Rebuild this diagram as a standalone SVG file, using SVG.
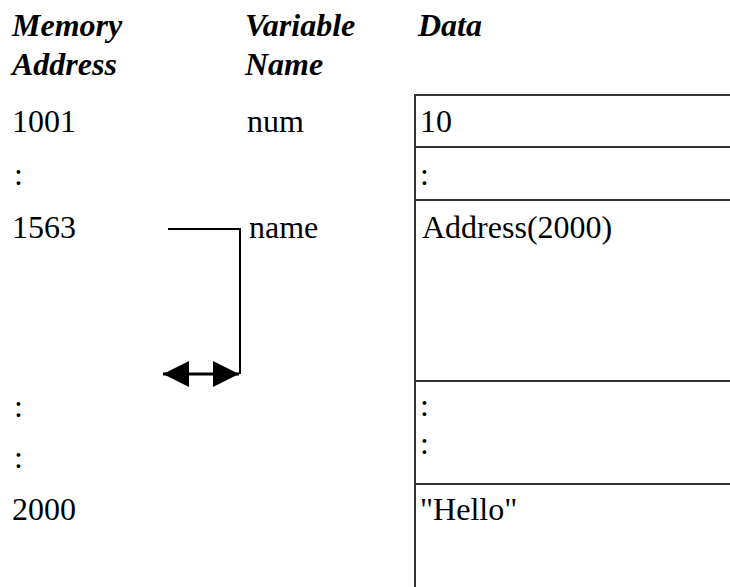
<svg xmlns="http://www.w3.org/2000/svg" width="730" height="587" viewBox="0 0 730 587">
<style>
text{font-family:"Liberation Serif","Times New Roman",serif;font-size:32px;fill:#000}
.h{font-weight:bold;font-style:italic}
.grid{stroke:#333;stroke-width:2;fill:none}
.conn{stroke:#000;stroke-width:2;fill:none}
</style>
<defs>
<marker id="ah" viewBox="0 0 10 10" refX="10" refY="5" markerWidth="26" markerHeight="26" markerUnits="userSpaceOnUse" orient="auto-start-reverse">
<path d="M0,0 L10,5 L0,10 Z" fill="#000"/>
</marker>
</defs>
<g id="headers">
<text class="h" x="12" y="36">Memory</text>
<text class="h" x="12" y="75">Address</text>
<text class="h" x="245" y="36">Variable</text>
<text class="h" x="245" y="75">Name</text>
<text class="h" x="418" y="36">Data</text>
</g>
<g id="table">
<path class="grid" d="M415,587 V95 H730 M415,147 H730 M415,200 H730 M415,381 H730 M415,484 H730"/>
</g>
<g id="row-1001">
<text x="12" y="132">1001</text>
<text x="247" y="132">num</text>
<text x="420" y="132">10</text>
</g>
<g id="row-gap1">
<text x="14" y="185">:</text>
<text x="420" y="185">:</text>
</g>
<g id="row-1563">
<text x="12" y="238">1563</text>
<text x="249" y="238">name</text>
<text x="422" y="238">Address(2000)</text>
</g>
<g id="row-gap2">
<text x="14" y="417">:</text>
<text x="14" y="468">:</text>
<text x="420" y="416">:</text>
<text x="420" y="454">:</text>
</g>
<g id="row-2000">
<text x="12" y="520">2000</text>
<text x="420" y="520">"Hello"</text>
</g>
<g id="connectors">
<path class="conn" d="M168,229 H240 V374"/>
<line x1="163" y1="374" x2="239" y2="374" stroke="#000" stroke-width="3" marker-start="url(#ah)" marker-end="url(#ah)"/>
</g>
</svg>
